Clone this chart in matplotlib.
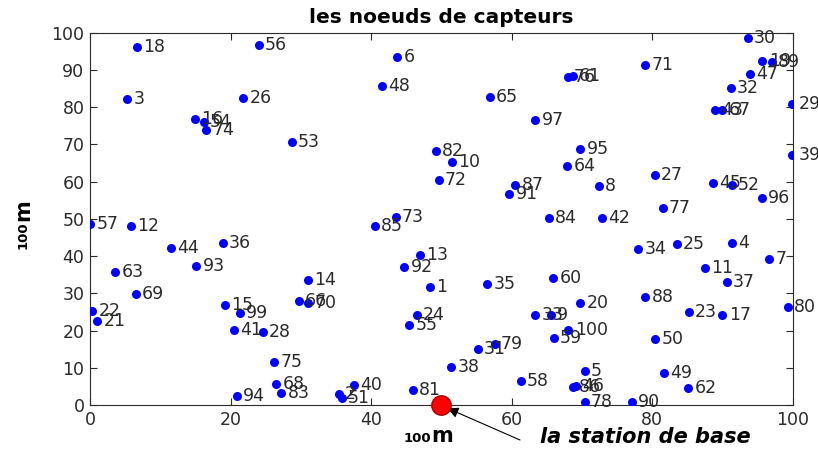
import matplotlib
matplotlib.use("Agg")
import matplotlib.pyplot as plt

plt.rcParams['font.family'] = ['DejaVu Sans']

# Sensor node ids and coordinates (metres)
node_ids = [18, 56, 3, 26, 16, 54, 74, 53, 57, 12, 44, 36, 63, 93, 69, 22, 21, 15, 99, 41,
            28, 14, 66, 70, 75, 68, 83, 94, 40, 2, 51, 81, 6, 48, 65, 97, 82, 10, 72, 87,
            91, 73, 85, 84, 13, 92, 1, 35, 60, 24, 55, 33, 9, 31, 79, 38, 58, 59, 100, 20,
            5, 86, 46, 78, 90, 50, 49, 62, 88, 23, 17, 80, 34, 25, 4, 7, 11, 37, 30, 19,
            89, 47, 32, 29, 43, 67, 39, 71, 76, 61, 95, 64, 8, 27, 45, 52, 96, 77, 42]
node_x = [6.7, 24.0, 5.3, 21.8, 14.9, 16.2, 16.5, 28.7, 0.0, 5.8, 11.5, 18.9, 3.6, 15.1, 6.5, 0.3, 1.0, 19.2, 21.3, 20.5,
          24.6, 31.0, 29.7, 31.0, 26.2, 26.5, 27.2, 20.9, 37.6, 35.4, 35.8, 45.9, 43.7, 41.5, 56.9, 63.4, 49.2, 51.5, 49.6, 60.5,
          59.7, 43.5, 40.5, 65.3, 46.9, 44.7, 48.4, 56.5, 65.9, 46.5, 45.4, 63.4, 65.6, 55.2, 57.6, 51.4, 61.3, 66.0, 68.1, 69.8,
          70.4, 68.7, 69.1, 70.4, 77.1, 80.4, 81.7, 85.1, 79.0, 85.2, 90.0, 99.3, 78.0, 83.5, 91.3, 96.7, 87.5, 90.6, 93.6, 95.7,
          97.0, 93.9, 91.2, 99.9, 89.0, 90.0, 99.9, 79.0, 68.0, 68.7, 69.8, 67.9, 72.4, 80.4, 88.6, 91.3, 95.6, 81.5, 72.8]
node_y = [96.2, 96.8, 82.3, 82.5, 76.9, 76.1, 73.9, 70.7, 48.7, 48.1, 42.2, 43.5, 35.8, 37.4, 29.8, 25.3, 22.6, 26.9, 24.7, 20.2,
          19.6, 33.6, 28.0, 27.4, 11.6, 5.6, 3.2, 2.4, 5.4, 3.0, 1.9, 4.0, 93.5, 85.8, 82.8, 76.6, 68.3, 65.3, 60.5, 59.1,
          56.7, 50.5, 48.1, 50.3, 40.3, 37.1, 31.7, 32.5, 34.1, 24.2, 21.5, 24.2, 24.2, 15.1, 16.4, 10.2, 6.5, 18.0, 20.2, 27.4,
          9.1, 4.8, 5.1, 0.8, 0.8, 17.7, 8.6, 4.6, 29.0, 25.0, 24.2, 26.3, 41.9, 43.3, 43.5, 39.2, 36.8, 33.1, 98.7, 92.5,
          92.2, 89.0, 85.2, 80.9, 79.3, 79.3, 67.2, 91.4, 88.2, 88.4, 68.8, 64.2, 58.9, 61.8, 59.7, 59.1, 55.6, 53.0, 50.3]

# Base station position
base_x = [50.0]
base_y = [0.0]

x_ticks = [0, 20, 40, 60, 80, 100]
y_ticks = [0, 10, 20, 30, 40, 50, 60, 70, 80, 90, 100]

fig = plt.figure(figsize=(8.18, 4.5), dpi=100)
ax = fig.add_axes([0.110, 0.100, 0.859, 0.827])

ax.plot(node_x, node_y, 'o', color='#0000ff', markersize=6.5, markeredgewidth=0, zorder=3)
for nid, x, y in zip(node_ids, node_x, node_y):
    ax.text(x + 0.9, y, str(nid), fontsize=12.5, color='#2a2a2a',
            va='center', ha='left', zorder=4, clip_on=False)

ax.plot(base_x, base_y, 'o', color='#ff0000', markeredgecolor='#aa0000',
        markeredgewidth=1.0, markersize=14, clip_on=False, zorder=5)

ax.set_xlim(0, 100)
ax.set_ylim(0, 100)
ax.set_xticks(x_ticks)
ax.set_yticks(y_ticks)
ax.tick_params(direction='in', top=True, right=True, length=5, width=0.8,
               labelsize=12.5, colors='#2a2a2a', pad=4)
for sp in ax.spines.values():
    sp.set_linewidth(0.8)
    sp.set_color('#2a2a2a')

fig.text(0.540, 0.962, 'les noeuds de capteurs', ha='center', va='center',
         fontsize=14.5, fontweight='bold')

# axis size labels
fig.text(0.527, 0.018, '100', ha='right', va='baseline', fontsize=9.5, fontweight='bold')
fig.text(0.527, 0.018, 'm', ha='left', va='baseline', fontsize=15, fontweight='bold')
fig.text(0.028, 0.508, '100', ha='center', va='top', rotation=90, fontsize=9.5, fontweight='bold')
fig.text(0.028, 0.508, 'm', ha='center', va='bottom', rotation=90, fontsize=15, fontweight='bold')

# base station callout
ax.annotate('', xy=(50.9, -0.9), xytext=(61.2, -9.4), textcoords='data',
            annotation_clip=False,
            arrowprops=dict(arrowstyle='-|>', color='black', lw=0.8,
                            mutation_scale=16, shrinkA=0, shrinkB=0))
ax.text(64, -8.7, 'la station de base', fontsize=15, fontweight='bold',
        fontstyle='italic', va='center', ha='left', clip_on=False)

fig.savefig('out.png', dpi=100, facecolor='white')
